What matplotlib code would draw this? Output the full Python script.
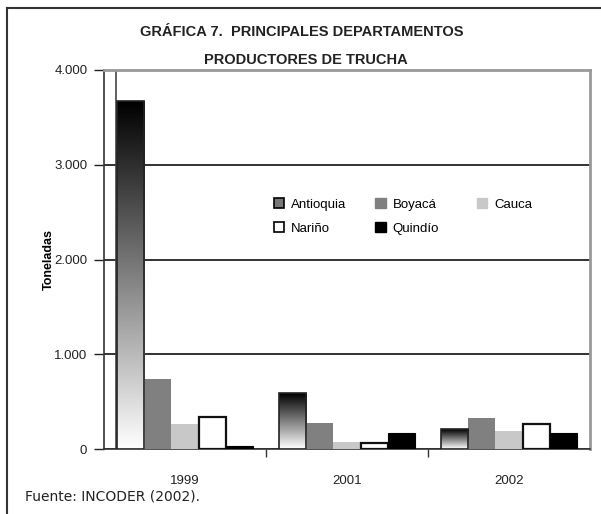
import numpy as np
import matplotlib
matplotlib.use("Agg")
import matplotlib.pyplot as plt
from matplotlib.patches import Patch
from matplotlib.lines import Line2D

# data (toneladas)
years = ["1999", "2001", "2002"]
departamentos = ["Antioquia", "Boyacá", "Cauca", "Nariño", "Quindío"]
antioquia = [3670, 590, 210]
boyaca = [740, 275, 330]
cauca = [265, 75, 190]
narino = [335, 60, 260]
quindio = [30, 165, 165]
series = [antioquia, boyaca, cauca, narino, quindio]
yticks = [0, 1000, 2000, 3000, 4000]
ytick_labels = ["0", "1.000", "2.000", "3.000", "4.000"]

face = ["white", "#808080", "#c8c8c8", "white", "black"]
edge = ["#222222", "#808080", "#c8c8c8", "#111111", "black"]
lw = [1.2, 0, 0, 1.6, 0.8]

plt.rcParams['font.family'] = ['Liberation Sans', 'DejaVu Sans']

fig = plt.figure(figsize=(6.01, 5.14), dpi=100)
ax = fig.add_axes([104/601, 1-449/514, 486/601, 379/514])

x = np.arange(len(years))
w = 27.2/162
gradient = np.linspace(0, 1, 256).reshape(-1, 1)
for i, vals in enumerate(series):
    bars = ax.bar(x - 2*w + i*w, vals, width=w, color=face[i], edgecolor=edge[i],
                  linewidth=lw[i], zorder=3)
    if i == 0:
        # black-to-white vertical gradient inside Antioquia bars
        for b in bars:
            x0, y0 = b.get_x(), b.get_y()
            im = ax.imshow(gradient, cmap="gray", aspect="auto", origin="upper",
                           extent=[x0, x0 + b.get_width(), y0, y0 + b.get_height()],
                           zorder=3.5, interpolation="bilinear")
            im.set_clip_path(b)
            b.set_facecolor("none")
            b.set_zorder(4)

ax.set_xlim(-0.5, 2.5)
ax.set_ylim(0, 4000)
ax.set_yticks(yticks)
ax.set_yticklabels(ytick_labels)
ax.yaxis.grid(True, color="#222222", linewidth=1.3, zorder=1)
ax.set_axisbelow(True)
ax.axvline(-0.5 + 12/162, color="#444444", linewidth=1.2, zorder=2)

ax.set_xticks(x)
ax.set_xticklabels(years)
ax.set_xticks([0.5, 1.5], minor=True)
ax.tick_params(axis="x", which="major", length=0, pad=19, labelsize=9.5, colors="#222222")
ax.tick_params(axis="x", which="minor", length=6, direction="out", width=1, color="#333333")
ax.tick_params(axis="y", length=7, direction="out", width=1, pad=5, labelsize=9.5,
               colors="#222222")

for s in ["left", "bottom"]:
    ax.spines[s].set_color("#333333")
    ax.spines[s].set_linewidth(1.2)
for s in ["top", "right"]:
    ax.spines[s].set_color("#999999")
    ax.spines[s].set_linewidth(2)

ax.set_ylabel("Toneladas", fontsize=9, fontweight="bold", labelpad=-0.5)

handles = [
    Patch(facecolor="#777777", edgecolor="black", linewidth=1.2),
    Patch(facecolor=face[1], edgecolor=face[1]),
    Patch(facecolor=face[2], edgecolor=face[2]),
    Patch(facecolor="white", edgecolor="black", linewidth=1.2),
    Patch(facecolor="black", edgecolor="black"),
]
leg_kw = dict(frameon=False, loc="upper left", bbox_transform=fig.transFigure,
              fontsize=9.5, handlelength=0.8, handleheight=0.8, handletextpad=0.5,
              labelspacing=0.9)
# first two columns (filled column-wise), then Cauca on its own
order = [0, 3, 1, 4]
leg1 = ax.legend([handles[k] for k in order], [departamentos[k] for k in order],
                 ncol=2, columnspacing=2.2, bbox_to_anchor=(262/601, 1-186/514), **leg_kw)
ax.add_artist(leg1)
ax.legend([handles[2]], [departamentos[2]], bbox_to_anchor=(465/601, 1-186/514), **leg_kw)

fig.text(302/601, 1-32/514, "GRÁFICA 7.  PRINCIPALES DEPARTAMENTOS", ha="center",
         va="center", fontsize=10.5, fontweight="bold", color="#222222")
fig.text(306/601, 1-60/514, "PRODUCTORES DE TRUCHA", ha="center", va="center",
         fontsize=10.5, fontweight="bold", color="#222222")
fig.text(25/601, 1-497/514, "Fuente: INCODER (2002).", ha="left", va="center",
         fontsize=10, color="#222222", family=["DejaVu Sans"])

# outer frame
fig.add_artist(Line2D([7/601, 7/601], [0, 1-8/514], transform=fig.transFigure,
                      color="#333333", linewidth=1.5))
fig.add_artist(Line2D([7/601, 1], [1-8/514, 1-8/514], transform=fig.transFigure,
                      color="#333333", linewidth=1.5))

fig.savefig("out.png", dpi=100)
